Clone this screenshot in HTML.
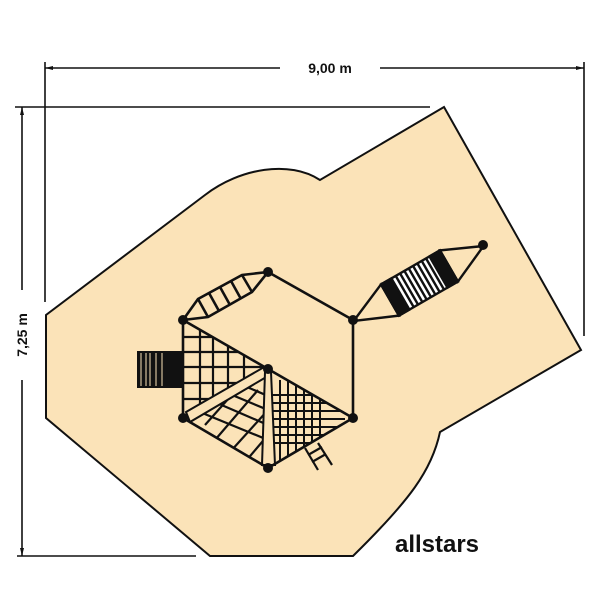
<!DOCTYPE html>
<html><head><meta charset="utf-8"><style>
html,body{margin:0;padding:0;background:#fff;}
svg{display:block;}
text{font-family:"Liberation Sans","DejaVu Sans",sans-serif;font-weight:bold;}
</style></head><body>
<svg width="600" height="595" viewBox="0 0 600 595" xmlns="http://www.w3.org/2000/svg">
<!-- ground shape -->
<path d="M444,107 L581,350 L440,432 C432,470 410,500 353,556 L210,556 L46,418 L46,315 L205,195 C240,168 290,160 320,180 Z" fill="#fbe3b8" stroke="#111" stroke-width="2"/>
<!-- dimension lines -->
<g stroke="#111" stroke-width="1.6" fill="none">
<line x1="45" y1="62" x2="45" y2="302"/>
<line x1="584" y1="62" x2="584" y2="336"/>
<line x1="45" y1="68" x2="280" y2="68"/>
<line x1="380" y1="68" x2="584" y2="68"/>
<line x1="15" y1="107" x2="430" y2="107"/>
<line x1="17" y1="556" x2="196" y2="556"/>
<line x1="22" y1="107" x2="22" y2="290"/>
<line x1="22" y1="380" x2="22" y2="556"/>
</g>
<g fill="#111">
<polygon points="45,68 53,66 53,70"/>
<polygon points="584,68 576,66 576,70"/>
<polygon points="22,107 20,115 24,115"/>
<polygon points="22,556 20,548 24,548"/>
</g>
<text x="330" y="73" font-size="14" text-anchor="middle" fill="#111">9,00 m</text>
<text x="0" y="0" font-size="14" text-anchor="middle" fill="#111" transform="translate(27,335) rotate(-90)">7,25 m</text>
<text x="437" y="552" font-size="24" text-anchor="middle" fill="#111">allstars</text>

<defs>
<clipPath id="t1"><polygon points="183,320 268,369 183,418"/></clipPath>
<clipPath id="t2"><polygon points="183,418 268,369 268,468"/></clipPath>
<clipPath id="t3"><polygon points="268,369 353,418 268,468"/></clipPath>
</defs>
<!-- nets -->
<g stroke="#111" stroke-width="2.2" fill="none">
<g clip-path="url(#t1)">
<line x1="183" y1="337" x2="260" y2="337"/><line x1="183" y1="352" x2="260" y2="352"/><line x1="183" y1="367" x2="270" y2="367"/><line x1="183" y1="383" x2="260" y2="383"/><line x1="183" y1="399" x2="260" y2="399"/>
<line x1="200" y1="320" x2="200" y2="418"/><line x1="213" y1="320" x2="213" y2="418"/><line x1="228" y1="320" x2="228" y2="418"/><line x1="244" y1="320" x2="244" y2="418"/>
</g>
<g clip-path="url(#t2)">
<line x1="205" y1="425" x2="245" y2="380"/><line x1="215" y1="440" x2="258" y2="390"/><line x1="230" y1="452" x2="268" y2="410"/><line x1="245" y1="462" x2="268" y2="435"/>
<line x1="195" y1="410" x2="268" y2="440"/><line x1="210" y1="400" x2="268" y2="425"/><line x1="225" y1="392" x2="268" y2="410"/><line x1="240" y1="384" x2="268" y2="396"/>
</g>
<g clip-path="url(#t3)" stroke-width="2">
<line x1="280" y1="380" x2="280" y2="470"/><line x1="288" y1="380" x2="288" y2="470"/><line x1="296" y1="380" x2="296" y2="470"/><line x1="304" y1="380" x2="304" y2="470"/><line x1="312" y1="380" x2="312" y2="470"/><line x1="320" y1="380" x2="320" y2="470"/>
<line x1="268" y1="395" x2="340" y2="395"/><line x1="268" y1="403" x2="345" y2="403"/><line x1="268" y1="411" x2="345" y2="411"/><line x1="268" y1="419" x2="345" y2="419"/><line x1="268" y1="427" x2="345" y2="427"/><line x1="268" y1="435" x2="345" y2="435"/><line x1="268" y1="443" x2="345" y2="443"/>
</g>
</g>
<!-- white strips -->
<polygon points="186,412 266,366 268,376 190,422" fill="#fbe3b8" stroke="#111" stroke-width="2"/>
<polygon points="265,372 271,372 275,465 262,465" fill="#fbe3b8" stroke="#111" stroke-width="2"/>
<!-- frame lines -->
<g stroke="#111" stroke-width="2.6" fill="none">
<line x1="183" y1="320" x2="183" y2="418"/>
<line x1="183" y1="320" x2="268" y2="369"/>
<line x1="183" y1="418" x2="268" y2="468"/>
<line x1="268" y1="468" x2="353" y2="418"/>
<line x1="268" y1="369" x2="353" y2="418"/>
<line x1="268" y1="272" x2="353" y2="320"/>
<line x1="353" y1="320" x2="353" y2="418"/>
</g>
<!-- ladder bottom of climbing net -->
<g stroke="#111" stroke-width="2.2">
<line x1="305" y1="448" x2="318" y2="470"/><line x1="318" y1="443" x2="332" y2="465"/>
<line x1="308" y1="455" x2="322" y2="447"/><line x1="312" y1="462" x2="326" y2="454"/>
</g>
<!-- ladder A-B -->
<g stroke="#111" stroke-width="2.6" fill="none">
<polyline points="183,320 198,299 242,275 268,272 252,292 208,317 183,320"/>
<line x1="198" y1="299" x2="208" y2="317"/>
<line x1="209" y1="293" x2="219" y2="311"/>
<line x1="220" y1="287" x2="230" y2="305"/>
<line x1="231" y1="281" x2="241" y2="299"/>
<line x1="242" y1="275" x2="252" y2="292"/>
</g>
<!-- stairs -->
<rect x="137" y="351" width="46" height="37" fill="#111"/>
<g stroke="#fbe3b8" stroke-width="1">
<line x1="141" y1="353" x2="141" y2="386"/><line x1="146" y1="353" x2="146" y2="386"/><line x1="150" y1="353" x2="150" y2="386"/>
<line x1="156" y1="353" x2="156" y2="386"/><line x1="162" y1="353" x2="162" y2="386"/>
</g>
<!-- slide -->
<g transform="translate(390,300) rotate(-30)" stroke="#111" stroke-width="2.4">
<polygon points="-42,0 0,-18 0,18" fill="#fbe3b8"/>
<polygon points="108,0 68,-18 68,18" fill="#fbe3b8"/>
<rect x="0" y="-18" width="68" height="36" fill="#fff"/>
<rect x="0" y="-18" width="12" height="36" fill="#111"/>
<rect x="56" y="-18" width="12" height="36" fill="#111"/>
<g stroke-width="2.4"><line x1="17" y1="-18" x2="17" y2="18"/><line x1="22" y1="-18" x2="22" y2="18"/><line x1="27" y1="-18" x2="27" y2="18"/><line x1="32" y1="-18" x2="32" y2="18"/><line x1="37" y1="-18" x2="37" y2="18"/><line x1="42" y1="-18" x2="42" y2="18"/><line x1="47" y1="-18" x2="47" y2="18"/><line x1="52" y1="-18" x2="52" y2="18"/></g>
</g>
<!-- nodes -->
<g fill="#111">
<circle cx="183" cy="320" r="5"/><circle cx="268" cy="272" r="5"/><circle cx="353" cy="320" r="5"/>
<circle cx="268" cy="369" r="5"/><circle cx="183" cy="418" r="5"/><circle cx="353" cy="418" r="5"/>
<circle cx="268" cy="468" r="5"/><circle cx="483" cy="245" r="5"/>
</g>
</svg>
</body></html>
